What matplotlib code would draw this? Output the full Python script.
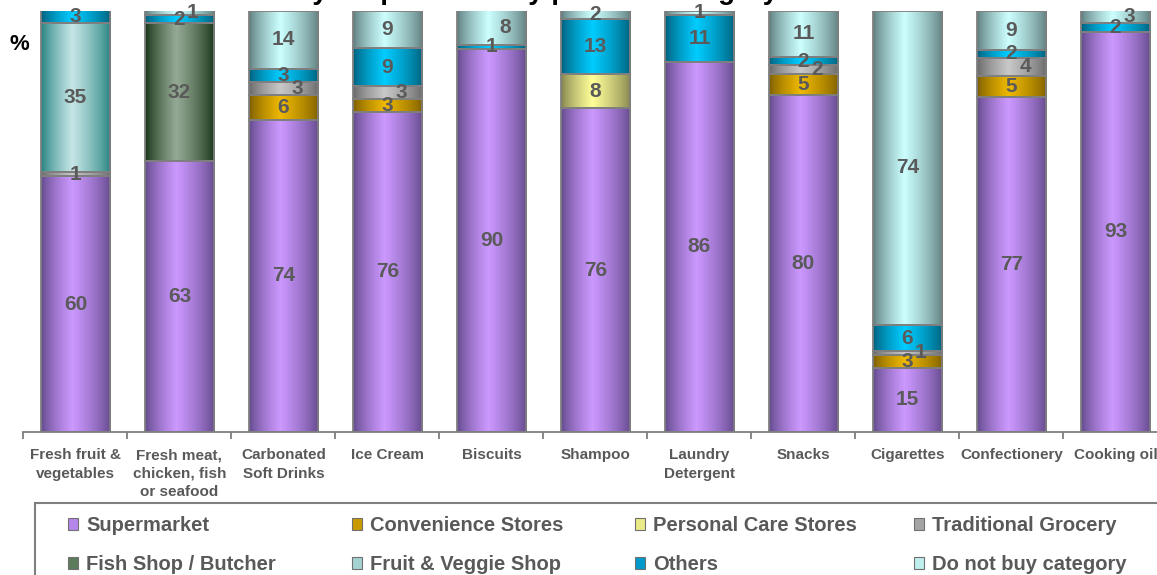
import numpy as np
import matplotlib
matplotlib.use("Agg")
import matplotlib.pyplot as plt
from matplotlib.colors import to_rgb
from matplotlib.patches import Rectangle

plt.rcParams["font.family"] = ["Liberation Sans", "DejaVu Sans"]

# ---------------- data ----------------
categories = ["Fresh fruit &\nvegetables", "Fresh meat,\nchicken, fish\nor seafood",
              "Carbonated\nSoft Drinks", "Ice Cream", "Biscuits", "Shampoo",
              "Laundry\nDetergent", "Snacks", "Cigarettes", "Confectionery", "Cooking oil"]
supermarket   = [60, 63, 74, 76, 90, 76, 86, 80, 15, 77, 93]
convenience   = [0, 0, 6, 3, 0, 0, 0, 5, 3, 5, 0]
personal_care = [0, 0, 0, 0, 0, 8, 0, 0, 0, 0, 0]
traditional   = [1, 0, 3, 3, 0, 0, 0, 2, 1, 4, 0]
fish_shop     = [0, 32, 0, 0, 0, 0, 0, 0, 0, 0, 0]
fruit_veggie  = [35, 0, 0, 0, 0, 0, 0, 0, 0, 0, 0]
others        = [3, 2, 3, 9, 1, 13, 11, 2, 6, 2, 2]
do_not_buy    = [0, 1, 14, 9, 8, 2, 1, 11, 74, 9, 3]

series_names = ["Supermarket", "Convenience Stores", "Personal Care Stores", "Traditional Grocery",
                "Fish Shop / Butcher", "Fruit & Veggie Shop", "Others", "Do not buy category"]
series_values = [supermarket, convenience, personal_care, traditional,
                 fish_shop, fruit_veggie, others, do_not_buy]
# (light centre, dark edge, legend swatch)
series_colors = [("#CC99FF", "#61478A", "#B486EC"),
                 ("#EEB800", "#7A5C00", "#C89A00"),
                 ("#FFFF99", "#80804C", "#EAEA88"),
                 ("#C8C8C8", "#666666", "#A4A4A4"),
                 ("#95AA95", "#123012", "#5C7C5C"),
                 ("#C6E6E6", "#1F7F7D", "#A4D2D2"),
                 ("#00CCFF", "#005C78", "#0099CC"),
                 ("#CCFFFF", "#5C7A7A", "#BEEEEE")]

W, H = 1157, 575
fig = plt.figure(figsize=(W / 100, H / 100), dpi=100)
ax = fig.add_axes([23.4 / W, (H - 431.7) / H, 1144.1 / W, 421.2 / H])

n = len(categories)
x = np.arange(n)
totals = np.sum(np.array(series_values, dtype=float), axis=0)
bar_w = 0.67
edge_col = "#7F7F7F"
lab_col = "#5A5A5A"

t = np.linspace(0, 1, 128)
peak = 0.45
f = np.where(t < peak, t / peak, 1 - (t - peak) / (1 - peak))
f = np.clip(f, 0, 1) ** 0.75

bottom = np.zeros(n)
label_info = [[] for _ in range(n)]
for vals, (light, dark, sw) in zip(series_values, series_colors):
    vals = np.array(vals, dtype=float)
    pct = vals / totals * 100
    bars = ax.bar(x, pct, bar_w, bottom=bottom, color=light, edgecolor="none", zorder=1)
    lc, dc = np.array(to_rgb(light)), np.array(to_rgb(dark))
    img = (dc[None, :] + f[:, None] * (lc - dc)[None, :])[None, :, :]
    for i, rect in enumerate(bars):
        if vals[i] <= 0:
            continue
        x0, y0 = rect.get_x(), rect.get_y()
        ax.imshow(img, extent=(x0, x0 + rect.get_width(), y0, y0 + rect.get_height()),
                  aspect="auto", interpolation="bilinear", zorder=2)
        label_info[i].append((y0 + rect.get_height() / 2, int(vals[i])))
    nz = vals > 0
    ax.bar(x[nz], pct[nz], bar_w, bottom=bottom[nz], fill=False, edgecolor=edge_col,
           linewidth=1.3, zorder=3)
    bottom += pct

# data labels with simple collision nudging
px_per_pct = 421.2 / 100
for i, labs in enumerate(label_info):
    group_idx = 0
    prev_y = None
    for ym, v in labs:
        if prev_y is not None and (ym - prev_y) * px_per_pct < 20:
            group_idx += 1
        else:
            group_idx = 0
        dx = 0.13 if group_idx % 2 == 1 else 0.0
        ax.text(x[i] + dx, ym, str(v), ha="center", va="center", fontsize=15,
                fontweight="bold", color=lab_col, zorder=5)
        prev_y = ym

ax.set_xlim(-0.5, n - 0.5)
ax.set_ylim(0, 100)
ax.set_yticks([])
for s in ["left", "right", "top"]:
    ax.spines[s].set_visible(False)
ax.spines["bottom"].set_color(edge_col)
ax.spines["bottom"].set_linewidth(1.3)
ax.set_xticks(x)
ax.set_xticklabels(categories, fontsize=11, fontweight="bold", color="#595959",
                   linespacing=1.4)
ax.tick_params(axis="x", which="major", length=0, pad=12)
ax.set_xticks(np.arange(-0.5, n, 1), minor=True)
ax.tick_params(axis="x", which="minor", length=5, color=edge_col, width=1.3)

fig.text(19 / W, 1 - 45 / H, "%", ha="center", va="center", fontsize=16,
         fontweight="bold", color="black")
fig.text(778 / W, 1 + 1.5 / H, "Outlet used mostly for purchase by product category",
         ha="right", va="baseline", fontsize=20, fontweight="bold", color="black")

# legend box and entries
fig.add_artist(Rectangle((35 / W, -0.2), 2.0, (H - 503) / H + 0.2, transform=fig.transFigure,
                         fill=False, edgecolor=edge_col, linewidth=1.5))
col_x = [68, 352, 635, 914]
row_y = [524, 563]
for k, (name, (light, dark, sw)) in enumerate(zip(series_names, series_colors)):
    cx = col_x[k % 4]
    cy = row_y[k // 4]
    fig.add_artist(Rectangle((cx / W, 1 - (cy + 6) / H), 10 / W, 12 / H,
                             transform=fig.transFigure, facecolor=sw,
                             edgecolor="#707070", linewidth=0.8))
    fig.text((cx + 18) / W, 1 - (cy + 1.5) / H, name, ha="left", va="center", fontsize=14.5,
             fontweight="bold", color="#595959")

fig.savefig("out.png", dpi=100)
